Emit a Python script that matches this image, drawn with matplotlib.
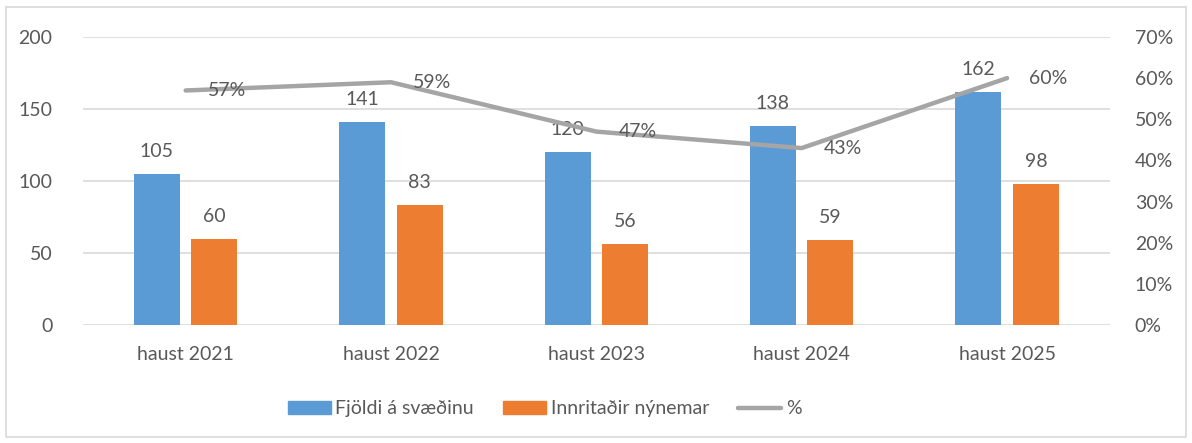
import numpy as np
import matplotlib.pyplot as plt
from matplotlib.patches import Rectangle
from matplotlib.lines import Line2D
from matplotlib.patches import Patch

plt.rcParams['font.family'] = ['Lato', 'DejaVu Sans']

categories = ["haust 2021", "haust 2022", "haust 2023", "haust 2024", "haust 2025"]
fjoldi = [105, 141, 120, 138, 162]
innritadir = [60, 83, 56, 59, 98]
hlutfall = [57, 59, 47, 43, 60]

blue = '#5b9bd5'
orange = '#ed7d31'
gray = '#a5a5a5'
text_color = '#595959'
grid_color = '#d9d9d9'
fs = 14

fig = plt.figure(figsize=(11.92, 4.43), dpi=100)
ax = fig.add_axes([0.0696, 0.2664, 0.8614, 0.6501])
ax2 = ax.twinx()

x = np.arange(len(categories))
w = 0.224
off = 0.14

b1 = ax.bar(x - off, fjoldi, w, color=blue, zorder=2)
b2 = ax.bar(x + off, innritadir, w, color=orange, zorder=2)

for bars, vals in ((b1, fjoldi), (b2, innritadir)):
    for rect, v in zip(bars, vals):
        ax.annotate(str(v), (rect.get_x() + rect.get_width() / 2, v), xytext=(0, 14),
                    textcoords='offset pixels', ha='center', va='bottom',
                    fontsize=fs, color=text_color)

ax.set_xlim(-0.5, len(categories) - 0.5)
ax.set_ylim(0, 200)
ax.set_yticks([0, 50, 100, 150, 200])
ax.set_xticks(x)
ax.set_xticklabels(categories)
ax.grid(axis='y', color=grid_color, linewidth=1.2, zorder=0)
ax.set_axisbelow(True)
ax.tick_params(axis='both', length=0, labelsize=fs, labelcolor=text_color)
ax.tick_params(axis='y', pad=22)
ax.tick_params(axis='x', pad=15)
for s in ax.spines.values():
    s.set_visible(False)

# hlutfall nýnema á seinni ásnum
ax2.plot(x, np.array(hlutfall) / 100, color=gray, linewidth=3.2,
         solid_capstyle='round', zorder=3)
for xi, p in zip(x, hlutfall):
    ax2.annotate(f"{p}%", (xi, p / 100), xytext=(22, 0), textcoords='offset pixels',
                 ha='left', va='center', fontsize=fs, color=text_color)
ticks = np.arange(0, 0.71, 0.1)
ax2.set_ylim(0, 0.7)
ax2.set_yticks(ticks)
ax2.set_yticklabels([f"{int(round(t * 100))}%" for t in ticks])
ax2.tick_params(axis='y', length=0, labelsize=fs, labelcolor=text_color, pad=18)
for s in ax2.spines.values():
    s.set_visible(False)

handles = [Patch(color=blue), Patch(color=orange),
           Line2D([], [], color=gray, linewidth=3.2, solid_capstyle='round')]
fig.legend(handles, ["Fjöldi á svæðinu", "Innritaðir nýnemar", "%"],
           loc='center', bbox_to_anchor=(0.457, 0.077), ncol=3, frameon=False,
           fontsize=fs, labelcolor=text_color, handlelength=2.2, handleheight=0.67,
           columnspacing=1.5, handletextpad=0.25)

fig.patches.append(Rectangle((6 / 1192, 6 / 443), 1180 / 1192, 430 / 443,
                             transform=fig.transFigure, fill=False,
                             edgecolor=grid_color, linewidth=1.2))

fig.savefig('out.png', dpi=100)
